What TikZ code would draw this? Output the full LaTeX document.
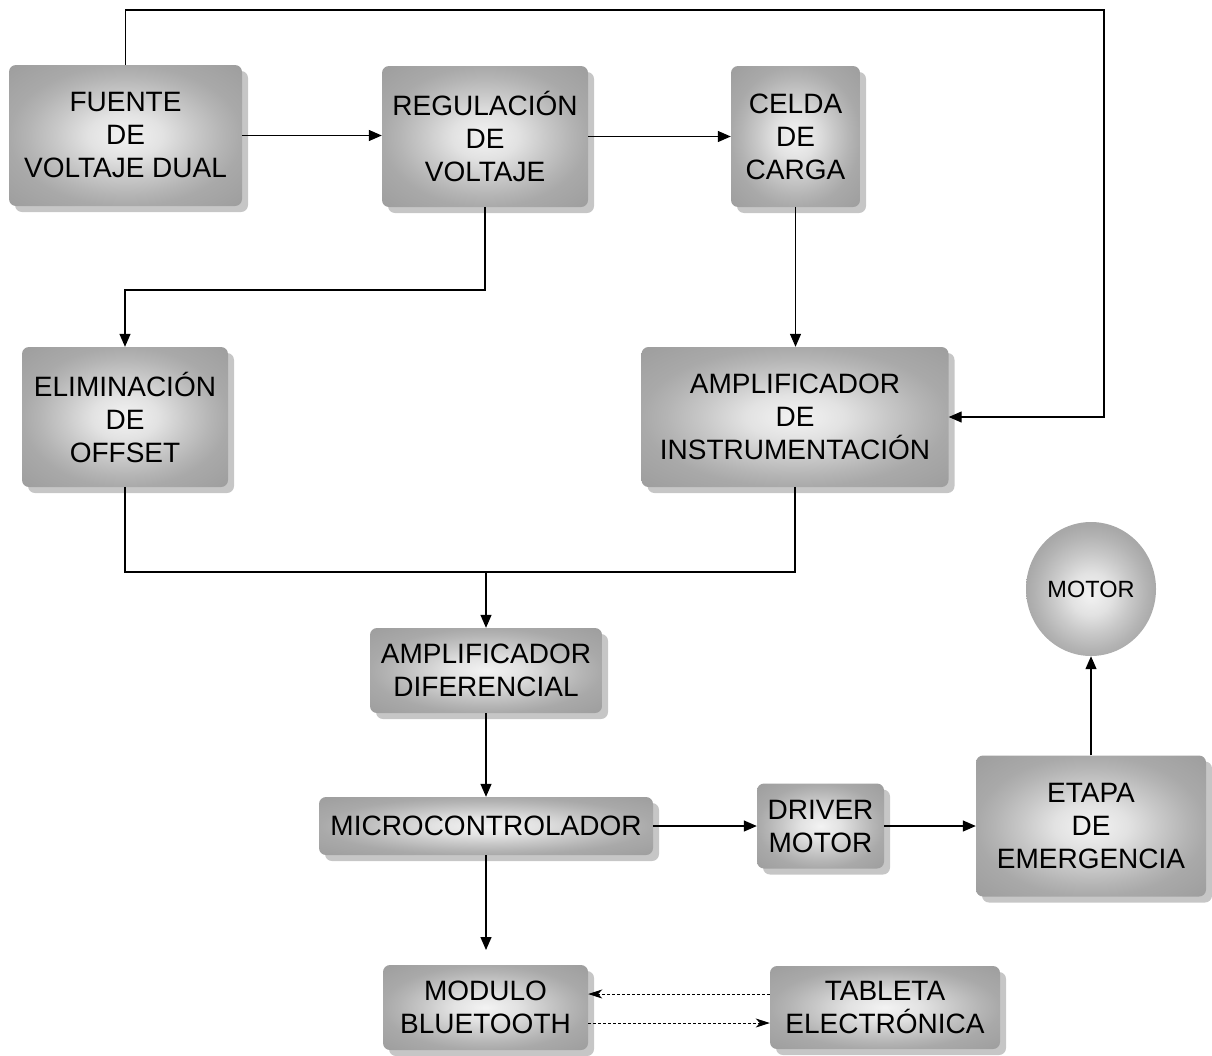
\documentclass[tikz,border=0pt]{standalone}
\usepackage{fontspec}
\setmainfont{Liberation Sans}
\usetikzlibrary{arrows.meta,shadows,shapes.geometric}
\definecolor{shA}{RGB}{243,243,243}
\definecolor{shB}{RGB}{226,226,226}
\definecolor{shC}{RGB}{200,200,200}
\definecolor{shD}{RGB}{180,180,180}
\definecolor{shE}{RGB}{169,169,169}
\definecolor{shF}{RGB}{158,158,158}
\definecolor{shadowc}{RGB}{198,198,198}
\pgfdeclareradialshading{boxsh}{\pgfpoint{0bp}{0bp}}{color(0bp)=(shA); color(8bp)=(shB); color(15bp)=(shC); color(21bp)=(shD); color(25bp)=(shE); color(35bp)=(shF); color(75bp)=(shF)}
\pgfdeclareradialshading{ballsh}{\pgfpoint{0bp}{-2bp}}{color(0bp)=(shA); color(8bp)=(shB); color(15bp)=(shC); color(21bp)=(shD); color(25bp)=(shE); color(35bp)=(shF); color(75bp)=(shF)}
\begin{document}
\begin{tikzpicture}[x=1pt,y=-1pt,
  blk/.style={rectangle, rounded corners=7pt, shading=boxsh, inner sep=0pt, align=center,
    font=\fontsize{28}{33}\selectfont,
    general shadow={shadow xshift=6pt, shadow yshift=-6pt, fill=shadowc}},
  ball/.style={ellipse, shading=ballsh, inner sep=0pt, font=\fontsize{23.5}{28}\selectfont},
  conn/.style={line width=1.3pt},
  arr/.style={conn, -{Triangle[length=13pt,width=11pt]}},
  dsh/.style={line width=0.9pt, dash pattern=on 3pt off 2pt, -{Stealth[length=14pt,width=9pt,inset=4pt]}}]
\useasboundingbox (0,0) rectangle (1212,1055);

\node[blk, minimum width=233pt, minimum height=141pt] (fuente) at (125.5,135.5) {FUENTE\\DE\\VOLTAJE DUAL};
\node[blk, minimum width=206pt, minimum height=141pt] (reg) at (485,136.5) {REGULACIÓN\\DE\\VOLTAJE};
\node[blk, minimum width=129pt, minimum height=141pt] (celda) at (795.5,136.5) {CELDA\\DE\\CARGA};
\node[blk, minimum width=206pt, minimum height=140pt] (elim) at (125,417) {ELIMINACIÓN\\DE\\OFFSET};
\node[blk, minimum width=307pt, minimum height=140pt] (ampi) at (795,417) {AMPLIFICADOR\\DE\\INSTRUMENTACIÓN};
\node[blk, minimum width=232pt, minimum height=85pt] (ampd) at (486,670.5) {AMPLIFICADOR\\DIFERENCIAL};
\node[blk, minimum width=334pt, minimum height=58pt] (micro) at (486,826) {MICROCONTROLADOR};
\node[blk, minimum width=127pt, minimum height=85pt] (driver) at (820.5,826) {DRIVER\\MOTOR};
\node[blk, minimum width=230pt, minimum height=141pt] (etapa) at (1091,826) {ETAPA\\DE\\EMERGENCIA};
\node[blk, minimum width=205pt, minimum height=85pt] (modulo) at (485.5,1007.5) {MODULO\\BLUETOOTH};
\node[blk, minimum width=230pt, minimum height=83pt] (tableta) at (885,1007.5) {TABLETA\\ELECTRÓNICA};
\node[ball, minimum width=130pt, minimum height=134pt] (motor) at (1091,589) {MOTOR};

\coordinate (c1) at (1104,10);
\coordinate (c2) at (486,290);
\coordinate (c3) at (486,572);
\coordinate (c4) at (486,950);

\draw[arr] (fuente.north) -- (fuente.north |- c1) -- (c1) -- (c1 |- ampi.east) -- (ampi.east);
\draw[arr] (fuente.east) -- (fuente.east -| reg.west);
\draw[arr] (reg.east) -- (reg.east -| celda.west);
\draw[arr] (reg.south) -- (reg.south |- c2) -- (elim.north |- c2) -- (elim.north);
\draw[arr] (celda.south) -- (celda.south |- ampi.north);
\draw[conn] (elim.south) -- (elim.south |- c3) -- (ampi.south |- c3) -- (ampi.south);
\draw[arr] (c3) -- (ampd.north);
\draw[arr] (ampd.south) -- (micro.north);
\draw[arr] (micro.east) -- (micro.east -| driver.west);
\draw[arr] (driver.east) -- (driver.east -| etapa.west);
\draw[arr] (etapa.north) -- (motor.south);
\draw[arr] (micro.south) -- (c4);
\draw[dsh] ([yshift=13.5pt]tableta.west) -- ([yshift=13.5pt]tableta.west -| modulo.east);
\draw[dsh] ([yshift=-15.5pt]modulo.east) -- ([yshift=-15.5pt]modulo.east -| tableta.west);
\end{tikzpicture}
\end{document}
